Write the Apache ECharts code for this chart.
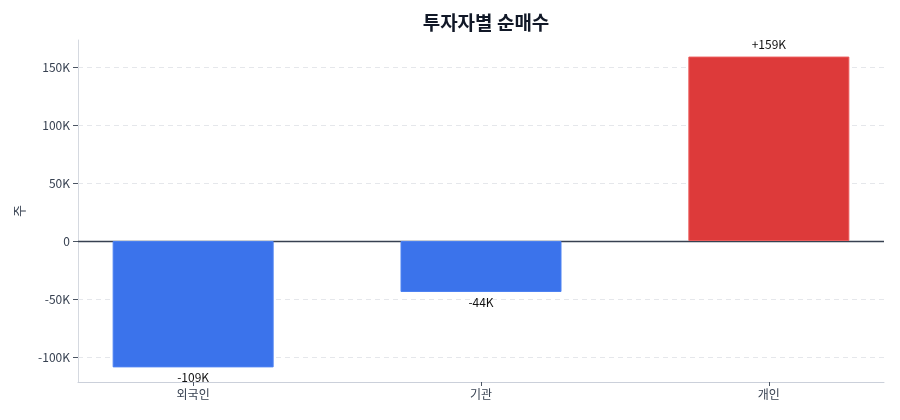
<!DOCTYPE html>
<html>
<head>
<meta charset="utf-8">
<script src="https://cdn.jsdelivr.net/npm/echarts@6/dist/echarts.min.js"></script>
<style>
html,body{margin:0;padding:0;background:#fff;}
#chart{width:900px;height:420px;}
</style>
</head>
<body>
<div id="chart"></div>
<script>
const categories = ['외국인', '기관', '개인'];
const netBuy = [-109000, -44000, 159000];
const valueLabels = ['-109K', '-44K', '+159K'];
const yTicks = [-100000, -50000, 0, 50000, 100000, 150000];
const gridTicks = [-100000, -50000, 50000, 100000, 150000];
const barColors = ['#3b73eb', '#3b73eb', '#dd3a3a'];
const barBorders = ['#4d82f2', '#4d82f2', '#ec5a5a'];

const FONT = '"Noto Sans CJK KR", "Noto Sans", sans-serif';
const chart = echarts.init(document.getElementById('chart'));

function fmtK(v) {
  if (v === 0) return '0';
  return (v / 1000) + 'K';
}

chart.setOption({
  animation: false,
  backgroundColor: '#ffffff',
  textStyle: { fontFamily: FONT },
  title: {
    text: '투자자별 순매수',
    left: 481,
    textAlign: 'center',
    top: 8,
    textStyle: { fontFamily: FONT, fontSize: 19, fontWeight: 'bold', color: '#111827' }
  },
  grid: { left: 78, right: 16, top: 40, bottom: 38 },
  xAxis: {
    type: 'value',
    min: -0.4,
    max: 2.4,
    splitLine: { show: false },
    axisLine: { show: true, onZero: false, lineStyle: { color: '#cbd0da', width: 1 } },
    axisTick: { show: true, customValues: [0, 1, 2], length: 4, lineStyle: { color: '#4b5563' } },
    axisLabel: {
      customValues: [0, 1, 2],
      formatter: function (v) { return categories[Math.round(v)]; },
      color: '#374151', fontSize: 12, fontFamily: FONT, margin: 6
    }
  },
  yAxis: {
    type: 'value',
    min: -121600,
    max: 173300,
    name: '주',
    nameLocation: 'middle',
    nameGap: 52,
    nameTextStyle: { color: '#374151', fontSize: 13, fontFamily: FONT },
    splitLine: { show: false },
    axisLine: { show: true, onZero: false, lineStyle: { color: '#d5d9e0', width: 1 } },
    axisTick: { show: true, customValues: yTicks, length: 5, lineStyle: { color: '#4b5563' } },
    axisLabel: {
      customValues: yTicks,
      formatter: fmtK,
      color: '#374151', fontSize: 12, fontFamily: FONT, margin: 8
    }
  },
  series: [{
    type: 'bar',
    barWidth: 161,
    data: netBuy.map(function (v, i) {
      return {
        value: [i, v],
        itemStyle: { color: barColors[i], borderColor: barBorders[i], borderWidth: 1 },
        label: {
          show: true,
          position: v < 0 ? 'bottom' : 'top',
          distance: v < 0 ? 4 : 6,
          formatter: valueLabels[i],
          color: '#111111',
          fontSize: 12,
          fontFamily: FONT
        }
      };
    }),
    markLine: {
      silent: true,
      symbol: 'none',
      label: { show: false },
      z: 1,
      data: gridTicks.map(function (t) {
        return { yAxis: t, lineStyle: { color: '#e5e7eb', type: [5, 4], width: 1 } };
      }).concat([{ yAxis: 0, lineStyle: { color: '#374151', type: 'solid', width: 1.3 } }])
    }
  }]
});
</script>
</body>
</html>
